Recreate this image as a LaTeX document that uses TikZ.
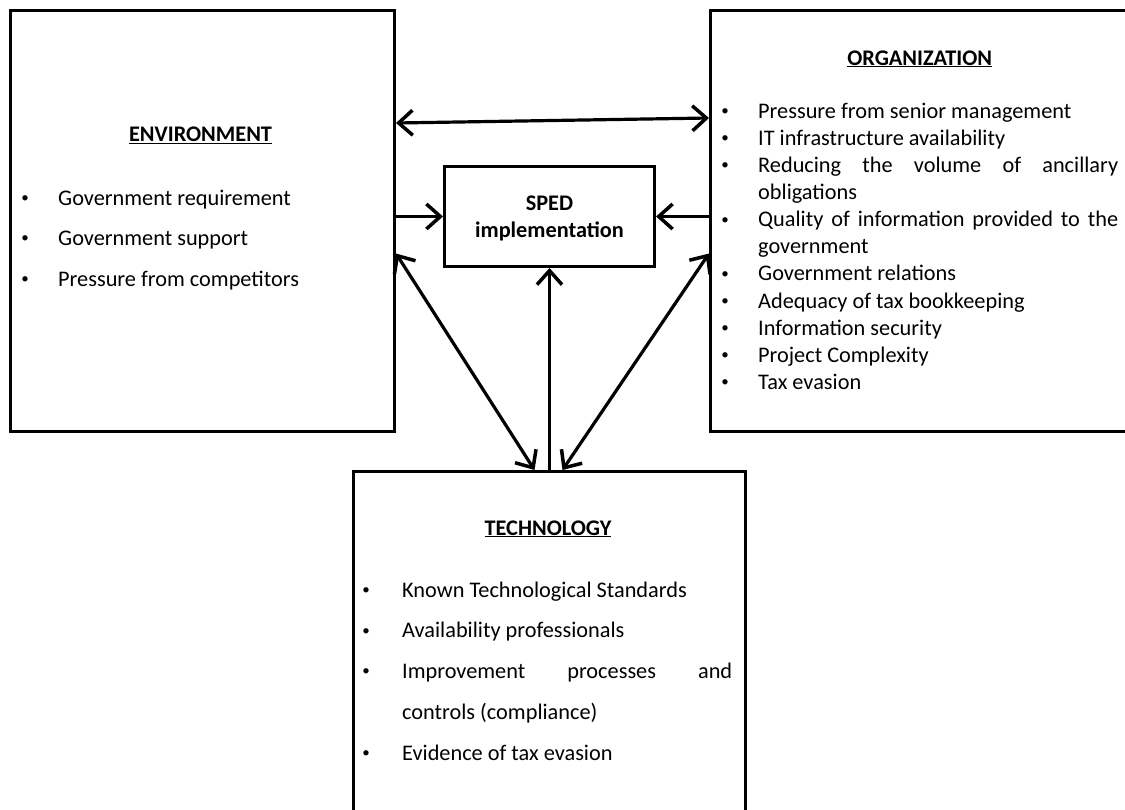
\documentclass[tikz,border=0pt]{standalone}
\usepackage{fontspec}
\setmainfont{Carlito}
\usepackage{tikz}
\usetikzlibrary{arrows.meta}
\tikzset{>={Straight Barb[length=14pt,width=25pt,line width=3.5pt]}}
\setlength{\parindent}{0pt}
\hyphenpenalty=10000
\tolerance=9999
\newcommand{\BUL}[1]{\noindent\llap{\makebox[#1][c]{\raisebox{2.6pt}{\fontsize{15}{15}\selectfont\textbullet}}}}

\begin{document}
\begin{tikzpicture}[x=1pt, y=-1pt]

  \tikzset{
    box/.style={draw, line width=3pt, inner sep=0pt, anchor=north west},
    head/.style={anchor=base, inner sep=0pt, font=\bfseries\fontsize{22.3}{26}\selectfont},
    itemlist/.style={anchor=base west, inner sep=0pt, align=justify, text width=#1},
    link/.style={line width=3.2pt}
  }

  \useasboundingbox (0,0) rectangle (1125,809);

  %% the four boxes
  \node[box, minimum width=384pt, minimum height=421pt] (env) at (9,9) {};
  \node[box, minimum width=421pt, minimum height=421pt] (org) at (709,9) {};
  \node[box, minimum width=392pt, minimum height=345pt] (tech) at (352,470) {};
  \node[box, minimum width=210pt, minimum height=100pt, align=center, text depth=0pt,
        font=\bfseries\fontsize{22.3}{26.7}\selectfont] (sped) at (443,165)
        {SPED\\implementation};

  %% headings
  \node[head] (envhead) at (200.5,141.7) {\underline{ENVIRONMENT}};
  \node[head] (orghead) at (919.7,65) {\underline{ORGANIZATION}};
  \node[head] (techhead) at (548,535) {\underline{TECHNOLOGY}};

  %% bullet lists
  \node[itemlist=320pt, font=\fontsize{22.3}{40.5}\selectfont] (envlist) at (58,205)
  {\BUL{66pt}Government requirement\par
   \BUL{66pt}Government support\par
   \BUL{66pt}Pressure from competitors};

  \node[itemlist=360pt, font=\fontsize{22.3}{27.1}\selectfont] (orglist) at (758,118.3)
  {\BUL{66pt}Pressure from senior management\par
   \BUL{66pt}IT infrastructure availability\par
   \BUL{66pt}Reducing the volume of ancillary\linebreak obligations\par
   \BUL{66pt}Quality of information provided to the\linebreak government\par
   \BUL{66pt}Government relations\par
   \BUL{66pt}Adequacy of tax bookkeeping\par
   \BUL{66pt}Information security\par
   \BUL{66pt}Project Complexity\par
   \BUL{66pt}Tax evasion};

  \node[itemlist=330pt, font=\fontsize{22.3}{40.75}\selectfont] (techlist) at (402,597)
  {\BUL{72pt}Known Technological Standards\par
   \BUL{72pt}Availability professionals\par
   \BUL{72pt}Improvement processes and\linebreak controls (compliance)\par
   \BUL{72pt}Evidence of tax evasion};

  %% connectors
  \draw[link, <->] ([yshift=-114pt]env.north east) -- ([yshift=-109pt]org.north west);
  \draw[link, ->] (env.east |- sped.west) -- (sped.west);
  \draw[link, ->] (org.west |- sped.east) -- (sped.east);
  \draw[link, ->] (tech.north) -- (sped.south);
  \draw[link, <->] ([yshift=-32.5pt]env.east) -- ([xshift=-15pt]tech.north);
  \draw[link, <->] ([yshift=-32.5pt]org.west) -- ([xshift=13pt]tech.north);

\end{tikzpicture}
\end{document}
